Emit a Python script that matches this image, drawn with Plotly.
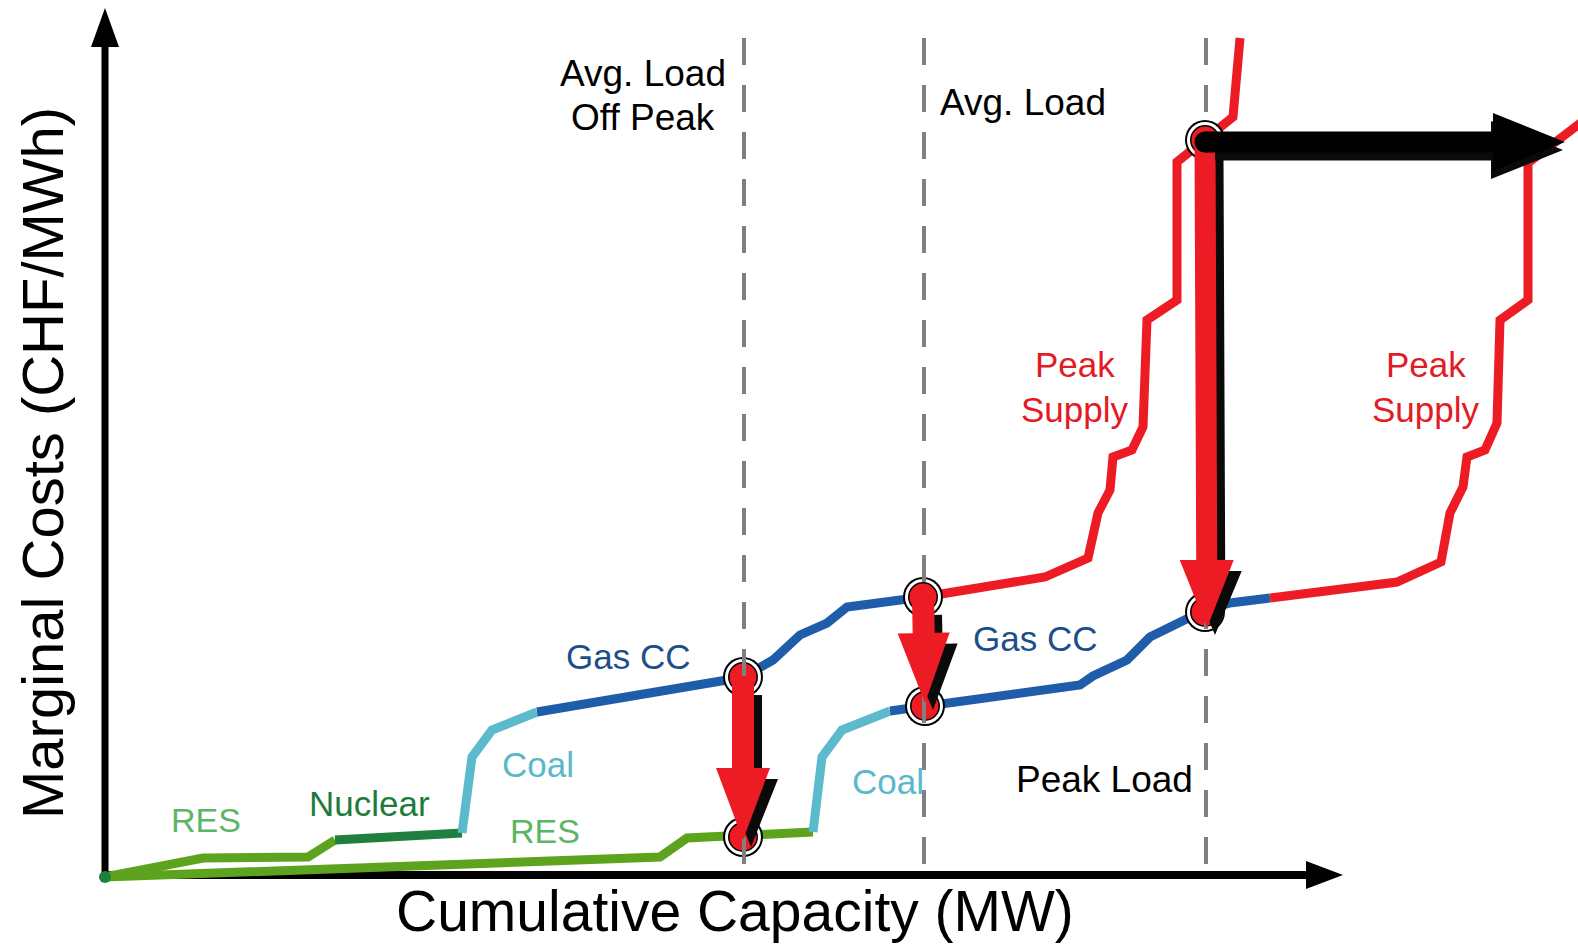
import math
import plotly.graph_objects as go

# ---------------- data (capacity units, cost units; origin at the axes corner) -------------
# Supply curve A (upper curve)
res_a_cap = [0, 98, 203, 230]
res_a_cost = [-2, 17, 18, 35]
nuc_a_cap = [230, 357]
nuc_a_cost = [35, 42]
coal_a_cap = [357, 367, 387, 420, 432]
coal_a_cost = [42, 118, 145, 158, 163]
gas_a_cap = [432, 495, 622, 638, 668, 695, 722, 742, 805, 818]
gas_a_cost = [163, 173, 195, 198, 215, 240, 252, 268, 277, 278]
peak_a_cap = [818, 940, 983, 993, 1005, 1008, 1027, 1038, 1042, 1072, 1072, 1122, 1128, 1135]
peak_a_cost = [278, 298, 317, 362, 385, 418, 425, 448, 555, 575, 713, 752, 758, 837]

# Supply curve B (lower curve, more RES)
res_b_cap = [0, 555, 582, 708]
res_b_cost = [-2, 18, 37, 43]
coal_b_cap = [708, 717, 737, 768, 785]
coal_b_cost = [43, 118, 145, 157, 164]
gas_b_cap = [785, 820, 975, 988, 1022, 1045, 1075, 1100, 1125, 1165]
gas_b_cost = [164, 169, 190, 199, 215, 238, 253, 265, 272, 277]
peak_b_cap = [1165, 1292, 1336, 1345, 1358, 1362, 1380, 1392, 1395, 1423, 1423, 1473, 1495]
peak_b_cost = [277, 293, 313, 362, 388, 418, 425, 452, 555, 575, 712, 750, 767]

# Load levels (vertical dashed lines)
load_labels = ["Avg. Load Off Peak", "Avg. Load", "Peak Load"]
load_cap = [639, 819, 1101]
load_top = 837

# Market-clearing points
eq_cap = [638, 638, 818, 820, 1100, 1100]
eq_cost = [198, 38, 278, 169, 735, 263]

# Price shifts (red arrows): start -> end
shift_cap0 = [638, 818, 1100]
shift_cost0 = [198, 278, 735]
shift_cap1 = [638, 820, 1102]
shift_cost1 = [35, 172, 247]

# Capacity shift (black arrow)
cap_shift_x0, cap_shift_y0 = 1100, 733
cap_shift_x1, cap_shift_y1 = 1460, 733

# Axis extents
axis_x_end = 1238
axis_y_end = 867

# ---------------- styles ----------------
C_RES = "#5DA31E"
C_NUC = "#1F7F3F"
C_COAL = "#5BBACB"
C_GAS = "#1F5CAA"
C_RED = "#ED1C24"
FONT = "Liberation Sans, Arial, sans-serif"
LW = 9


def arrow_poly(x0, y0, x1, y1, shaft_w, head_w, head_len):
    dx, dy = x1 - x0, y1 - y0
    L = math.hypot(dx, dy)
    ux, uy = dx / L, dy / L
    nx, ny = -uy, ux
    bx, by = x1 - ux * head_len, y1 - uy * head_len
    hs, hh = shaft_w / 2, head_w / 2
    pts = [(x0 + nx * hs, y0 + ny * hs), (bx + nx * hs, by + ny * hs),
           (bx + nx * hh, by + ny * hh), (x1, y1),
           (bx - nx * hh, by - ny * hh), (bx - nx * hs, by - ny * hs),
           (x0 - nx * hs, y0 - ny * hs), (x0 + nx * hs, y0 + ny * hs)]
    return [p[0] for p in pts], [p[1] for p in pts]


fig = go.Figure()


def add_poly(xs, ys, color):
    fig.add_trace(go.Scatter(x=xs, y=ys, mode="lines", fill="toself", fillcolor=color,
                             line=dict(width=0, color=color), hoverinfo="skip"))


def add_line(xs, ys, color, width=LW):
    fig.add_trace(go.Scatter(x=xs, y=ys, mode="lines",
                             line=dict(color=color, width=width), hoverinfo="skip"))


# axes as arrows
xs, ys = arrow_poly(0, -3, 0, axis_y_end, 7, 28, 39)
add_poly(xs, ys, "black")
xs, ys = arrow_poly(-3, 0, axis_x_end, 0, 8, 28, 37)
add_poly(xs, ys, "black")

# supply curves
add_line(res_b_cap, res_b_cost, C_RES)
add_line(res_a_cap, res_a_cost, C_RES)
add_line(nuc_a_cap, nuc_a_cost, C_NUC)
add_line(coal_a_cap, coal_a_cost, C_COAL)
add_line(coal_b_cap, coal_b_cost, C_COAL)
add_line(gas_a_cap, gas_a_cost, C_GAS)
add_line(gas_b_cap, gas_b_cost, C_GAS)
add_line(peak_a_cap, peak_a_cost, C_RED)
add_line(peak_b_cap, peak_b_cost, C_RED)

# origin dot
fig.add_trace(go.Scatter(x=[res_a_cap[0]], y=[res_a_cost[0]], mode="markers",
                         marker=dict(size=12, color=C_NUC), hoverinfo="skip"))

# equilibrium circles
for size, col in [(40, "black"), (36, "white"), (30, "black"), (27, C_RED)]:
    fig.add_trace(go.Scatter(x=eq_cap, y=eq_cost, mode="markers",
                             marker=dict(size=size, color=col, line=dict(width=0)),
                             hoverinfo="skip"))

# dashed load lines
for xc in load_cap:
    fig.add_trace(go.Scatter(x=[xc, xc], y=[load_top, 0], mode="lines",
                             line=dict(color="#808080", width=4, dash="27px,20px"),
                             hoverinfo="skip"))

# red price-shift arrows with black shadow
heads = [(22, 54, 72), (22, 52, 70), (21, 54, 68)]
for i in range(3):
    sw, hw, hl = heads[i]
    xs, ys = arrow_poly(shift_cap0[i] + 8, shift_cost0[i] - 18, shift_cap1[i] + 8, shift_cost1[i] - 7, sw, hw, hl - 4)
    add_poly(xs, ys, "#0A0A0A")
    xs, ys = arrow_poly(shift_cap0[i], shift_cost0[i], shift_cap1[i], shift_cost1[i], sw, hw, hl)
    add_poly(xs, ys, C_RED)

# black capacity-shift arrow (with shadow)
xs, ys = arrow_poly(cap_shift_x0 + 10, cap_shift_y0 - 8, cap_shift_x1 - 2, cap_shift_y1 - 8, 21, 58, 72)
add_poly(xs, ys, "#0A0A0A")
xs, ys = arrow_poly(cap_shift_x0, cap_shift_y0, cap_shift_x1, cap_shift_y1, 21, 58, 72)
add_poly(xs, ys, "black")
fig.add_trace(go.Scatter(x=[cap_shift_x0], y=[cap_shift_y0], mode="markers",
                         marker=dict(size=21, color="black"), hoverinfo="skip"))

# ---------------- labels ----------------
labels = [
    ("Avg. Load", 538, 802, 37, "black"),
    ("Off Peak", 538, 758, 37, "black"),
    ("Avg. Load", 918, 773, 37, "black"),
    ("Peak Load", 999, 96, 37, "black"),
    ("Peak", 970, 511, 35, "#E31B23"),
    ("Supply", 970, 466, 35, "#E31B23"),
    ("Peak", 1321, 511, 35, "#E31B23"),
    ("Supply", 1321, 466, 35, "#E31B23"),
    ("Gas CC", 523, 219, 35, "#1C4F8A"),
    ("Gas CC", 930, 237, 35, "#1C4F8A"),
    ("Coal", 433, 111, 35, "#5AB8CB"),
    ("Coal", 783, 94, 35, "#5AB8CB"),
    ("Nuclear", 264, 72, 35, "#1E7B3C"),
    ("RES", 101, 55, 34, "#5BB565"),
    ("RES", 440, 44, 34, "#5BB565"),
    ("Cumulative Capacity (MW)", 630, -36, 57, "black"),
]
annotations = []
for txt, x, y, s, c in labels:
    annotations.append(dict(text=txt, x=x, y=y, xref="x", yref="y", showarrow=False,
                            xanchor="center", yanchor="middle",
                            font=dict(family=FONT, size=s, color=c)))
annotations.append(dict(text="Marginal Costs (CHF/MWh)", x=-63, y=412, xref="x", yref="y",
                        showarrow=False, textangle=-90, xanchor="center", yanchor="middle",
                        font=dict(family=FONT, size=58, color="black")))

fig.update_layout(
    width=1578, height=947,
    margin=dict(l=0, r=0, t=0, b=0),
    paper_bgcolor="white", plot_bgcolor="white",
    showlegend=False,
    xaxis=dict(range=[-105, 1473], visible=False, fixedrange=True),
    yaxis=dict(range=[-72, 875], visible=False, fixedrange=True),
    annotations=annotations,
)

fig.write_html("out.html", config={"displayModeBar": False},
               post_script="document.body.style.margin='0';document.body.style.overflow='hidden';")
